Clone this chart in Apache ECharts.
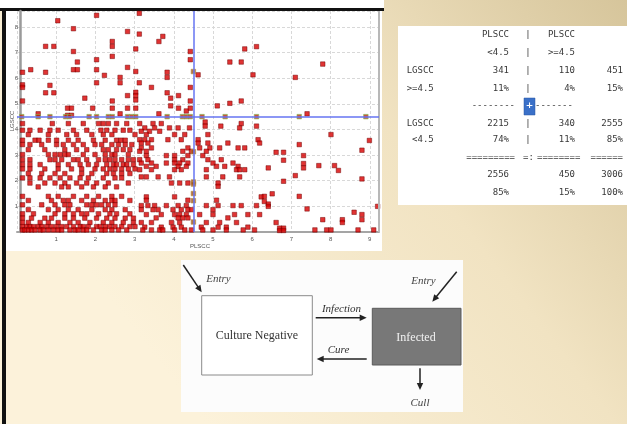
<!DOCTYPE html>
<html><head><meta charset="utf-8">
<script src="https://cdn.jsdelivr.net/npm/echarts@6/dist/echarts.min.js"></script>
<style>html,body{margin:0;padding:0;background:#fff}#c{width:627px;height:424px}</style>
</head><body><div id="c"></div>
<script>
// ---------- scatter data ----------
const xTickLabels = ['1','2','3','4','5','6','7','8','9'];
const yTickLabels = ['1','2','3','4','5','6','7','8'];
const xAxisName = 'PLSCC';
const yAxisName = 'LGSCC';
const cutoff = 4.5;

const pointsUpper = [
[2.03,8.45],[1.04,8.24],[1.44,7.93],[3.12,8.53],[2.82,7.82],[2.43,7.43],[2.43,7.24],[0.73,7.24],[0.94,7.24],[1.44,7.04],[3.03,7.14],[2.43,6.85],[2.03,6.72],[1.54,6.63],[2.82,6.42],[3.03,6.26],[0.14,6.23],[0.35,6.33],[0.73,6.23],[1.44,6.33],[1.54,6.33],[2.03,6.33],[2.23,6.11],[2.63,6.03],[2.63,5.82],[0.14,5.74],[0.14,5.64],[0.84,5.72],[2.03,5.82],[0.73,5.43],[0.94,5.43],[3.03,5.45],[3.03,5.32],[3.03,5.15],[2.82,5.32],[1.73,5.22],[2.43,5.11],[0.14,5.11],[2.82,4.83],[3.03,4.83],[2.43,4.83],[1.93,4.83],[1.29,4.83],[1.39,4.83],[0.54,4.61],[2.63,4.61],[1.29,4.55],[1.39,4.55],
[3.72,7.63],[3.62,7.43],[3.12,7.72],[5.81,7.14],[6.11,7.23],[4.42,7.04],[4.42,6.72],[5.43,6.63],[5.72,6.63],[3.83,6.23],[3.83,6.03],[4.62,6.13],[6.02,6.13],[3.12,5.82],[3.43,5.64],[4.42,5.64],[3.83,5.43],[3.92,5.22],[4.12,5.32],[4.42,5.11],[3.92,4.92],[4.12,4.83],[4.32,4.72],[4.42,4.83],[5.11,4.92],[5.43,5.02],[5.72,5.11],[3.62,4.61],
[7.80,6.55],[7.10,6.03],[7.40,4.61]
];

const pointsLowerLeft = [
[0.14,4.23],[0.90,4.23],[1.31,4.23],[1.69,4.23],[2.08,4.23],[2.20,4.23],[2.33,4.23],[2.54,4.23],[2.80,4.23],
[0.14,3.97],[0.33,3.97],[0.59,3.97],[0.84,3.97],[1.05,3.97],[1.44,3.97],[1.78,3.97],[2.14,3.97],[2.29,3.97],[2.50,3.97],[2.71,3.97],[2.88,3.97],
[0.29,3.80],[0.80,3.80],[1.27,3.80],[1.52,3.80],[1.91,3.80],[2.20,3.80],[2.42,3.80],[3.01,3.80],
[0.14,3.58],[0.46,3.58],[0.56,3.58],[0.80,3.58],[1.01,3.58],[1.31,3.58],[1.56,3.58],[1.95,3.58],[2.25,3.58],[2.54,3.58],[2.65,3.58],[2.76,3.58],
[0.14,3.41],[0.33,3.41],[0.63,3.41],[1.01,3.41],[1.18,3.41],[1.44,3.41],[1.69,3.41],[1.99,3.41],[2.16,3.41],[2.42,3.41],[2.59,3.41],[2.76,3.41],[2.93,3.41],
[0.29,3.21],[0.71,3.21],[1.22,3.21],[1.52,3.21],[1.78,3.21],[2.20,3.21],[2.33,3.21],[2.54,3.21],[2.71,3.21],[2.88,3.21],
[0.14,3.02],[0.80,3.02],[0.97,3.02],[1.10,3.02],[1.22,3.02],[1.31,3.02],[1.69,3.02],[1.99,3.02],[2.25,3.02],[2.42,3.02],[2.50,3.02],[2.84,3.02],
[0.14,2.82],[0.33,2.82],[0.84,2.82],[0.97,2.82],[1.14,2.82],[1.44,2.82],[1.56,2.82],[1.78,2.82],[2.08,2.82],[2.25,2.82],[2.37,2.82],[2.50,2.82],[2.67,2.82],[2.84,2.82],[2.97,2.82],
[0.14,2.63],[0.33,2.63],[0.59,2.63],[1.05,2.63],[1.31,2.63],[1.61,2.63],[1.82,2.63],[2.03,2.63],[2.29,2.63],[2.46,2.63],[2.54,2.63],[2.71,2.63],[2.80,2.63],[2.97,2.63],
[0.14,2.46],[0.33,2.46],[0.71,2.46],[1.05,2.46],[1.39,2.46],[1.65,2.46],[1.99,2.46],[2.20,2.46],[2.37,2.46],[2.50,2.46],[2.67,2.46],[2.84,2.46],[3.01,2.46],
[0.29,2.28],[0.63,2.28],[0.97,2.28],[1.22,2.28],[1.65,2.28],[1.91,2.28],[2.29,2.28],[2.46,2.28],[2.67,2.28],[2.88,2.28],
[0.14,2.11],[0.33,2.11],[0.59,2.11],[0.84,2.11],[1.10,2.11],[1.35,2.11],[1.61,2.11],[1.82,2.11],[2.20,2.11],[2.50,2.11],[2.67,2.11],
[0.33,1.91],[0.71,1.91],[0.97,1.91],[1.22,1.91],[1.52,1.91],[1.78,1.91],[2.03,1.91],[2.33,1.91],[2.84,1.91],
[0.54,1.76],[1.14,1.76],[1.31,1.76],[1.65,1.76],[1.95,1.76],[2.25,1.76],[2.54,1.76],
[0.14,1.39],[0.80,1.39],[1.05,1.39],[1.44,1.39],[1.78,1.39],[2.08,1.39],[2.42,1.39],[2.67,1.39],
[0.29,1.23],[0.88,1.23],[1.18,1.23],[1.31,1.23],[1.65,1.23],[1.95,1.23],[2.25,1.23],[2.42,1.23],[2.50,1.23],[2.88,1.23],
[0.14,1.06],[0.63,1.06],[0.97,1.06],[1.22,1.06],[1.35,1.06],[1.78,1.06],[1.91,1.06],[2.03,1.06],[2.16,1.06],[2.33,1.06],[2.50,1.06],
[0.29,0.87],[0.80,0.87],[1.05,0.87],[1.31,0.87],[1.56,0.87],[1.91,0.87],[2.25,0.87],[2.42,0.87],[2.76,0.87],
[0.14,0.71],[0.42,0.71],[0.97,0.71],[1.22,0.71],[1.44,0.71],[1.65,0.71],[1.78,0.71],[2.08,0.71],[2.37,0.71],[2.54,0.71],[2.88,0.71],
[0.14,0.54],[0.37,0.54],[0.71,0.54],[0.88,0.54],[1.22,0.54],[1.44,0.54],[1.73,0.54],[2.03,0.54],[2.29,0.54],[2.50,0.54],[2.76,0.54],[2.97,0.54],
[0.14,0.37],[0.29,0.37],[0.59,0.37],[0.80,0.37],[1.05,0.37],[1.35,0.37],[1.56,0.37],[1.86,0.37],[2.20,0.37],[2.42,0.37],[2.71,0.37],[2.97,0.37],
[0.14,0.21],[0.25,0.21],[0.33,0.21],[0.42,0.21],[0.54,0.21],[0.63,0.21],[0.76,0.21],[0.88,0.21],[1.01,0.21],[1.14,0.21],[1.27,0.21],[1.44,0.21],[1.61,0.21],[1.69,0.21],[1.82,0.21],[2.03,0.21],[2.12,0.21],[2.25,0.21],[2.37,0.21],[2.50,0.21],[2.67,0.21],[2.88,0.21],[3.01,0.21],
[0.14,0.08],[0.20,0.08],[0.29,0.08],[0.37,0.08],[0.46,0.08],[0.59,0.08],[0.67,0.08],[0.80,0.08],[0.93,0.08],[1.05,0.08],[1.14,0.08],[1.35,0.08],[1.48,0.08],[1.56,0.08],[1.69,0.08],[1.78,0.08],[1.95,0.08],[2.16,0.08],[2.25,0.08],[2.42,0.08],[2.59,0.08],[2.80,0.08]
];

const pointsLowerMid = [
[3.13,4.23],[3.47,4.23],[3.68,4.23],[4.80,4.29],[4.80,4.13],[5.20,4.13],[5.72,4.23],[6.11,4.13],
[3.26,4.06],[3.51,4.06],[3.89,4.06],[4.11,4.06],[4.40,4.06],[5.68,4.06],
[3.17,3.93],[3.38,3.93],[3.64,3.93],
[3.30,3.80],[4.02,3.80],[4.28,3.80],[4.87,3.80],
[3.13,3.60],[3.26,3.60],[3.43,3.60],[3.85,3.60],[4.19,3.60],[4.62,3.60],[6.15,3.60],
[3.17,3.47],[3.34,3.47],[4.62,3.47],[4.87,3.47],[5.38,3.47],[6.19,3.47],
[3.17,3.28],[3.43,3.28],[4.36,3.28],[4.66,3.28],[4.92,3.28],[5.17,3.28],[5.64,3.28],[5.81,3.28],
[3.13,3.15],[3.30,3.15],[4.23,3.15],[4.45,3.15],[4.83,3.15],
[3.30,2.98],[3.81,2.98],[4.02,2.98],[4.36,2.98],[4.74,2.98],
[3.13,2.82],[3.34,2.82],[4.02,2.82],[4.23,2.82],[4.87,2.82],[5.21,2.82],
[3.17,2.69],[3.43,2.69],[3.81,2.69],[4.02,2.69],[4.15,2.69],[4.36,2.69],[5.00,2.69],[5.51,2.69],
[3.30,2.56],[3.55,2.56],[4.11,2.56],[4.32,2.56],[5.09,2.56],[5.30,2.56],[5.64,2.56],
[3.13,2.43],[3.43,2.43],[4.02,2.43],[4.19,2.43],[4.83,2.43],[5.60,2.43],[5.68,2.43],[5.81,2.43],
[3.17,2.15],[3.30,2.15],[3.60,2.15],[3.89,2.15],[4.83,2.15],[5.25,2.15],[5.68,2.15],
[3.94,1.91],[4.15,1.91],[4.36,1.91],[5.13,1.91],
[5.13,1.78],
[3.30,1.37],[4.02,1.37],[6.23,1.37],
[3.30,1.24],[4.36,1.24],[5.09,1.24],
[3.17,1.03],[3.34,1.03],[3.51,1.03],[3.81,1.03],[4.11,1.03],[4.32,1.03],[4.83,1.03],[5.13,1.03],[5.51,1.03],[5.72,1.03],[6.11,1.03],
[3.17,0.87],[3.47,0.87],[3.60,0.87],[3.98,0.87],[4.19,0.87],[4.36,0.87],[4.45,0.87],[5.00,0.87],
[3.30,0.68],[3.68,0.68],[4.02,0.68],[4.15,0.68],[4.32,0.68],[4.66,0.68],[5.00,0.68],[5.55,0.68],[5.89,0.68],[6.19,0.68],
[3.55,0.55],[4.11,0.55],[4.23,0.55],[4.36,0.55],[5.38,0.55],
[3.17,0.37],[3.43,0.37],[3.94,0.37],[4.15,0.37],[4.83,0.37],[5.17,0.37],[5.60,0.37],
[3.26,0.19],[3.68,0.19],[3.98,0.19],[4.19,0.19],[4.70,0.19],[5.13,0.19],[5.34,0.19],[5.89,0.19],
[3.21,0.08],[3.43,0.08],[3.64,0.08],[3.72,0.08],[4.02,0.08],[4.28,0.08],[4.45,0.08],[4.74,0.08],[5.00,0.08],[5.34,0.08],[5.77,0.08],[6.06,0.08]
];

const pointsLowerRight = [
[8.01,3.80],[8.99,3.57],[7.20,3.41],[6.61,3.11],[6.80,3.11],[8.80,3.19],[6.80,2.80],[7.31,2.98],[7.31,2.67],[7.31,2.50],[6.41,2.50],[7.70,2.59],[8.10,2.59],[8.20,2.40],[7.10,2.20],[6.80,1.98],[8.80,2.07],[6.51,1.49],[6.31,1.39],[6.31,1.19],[6.41,1.09],[6.41,1.00],[7.20,1.39],[7.40,0.90],[9.20,1.00],[8.60,0.77],[8.80,0.68],[8.80,0.48],[7.80,0.48],[8.30,0.48],[8.30,0.37],[6.61,0.37],[6.70,0.15],[6.80,0.15],[6.70,0.06],[6.80,0.06],[7.60,0.08],[7.90,0.08],[8.01,0.08],[8.70,0.08],[9.10,0.08]
];

// points lying on the cut-off lines
const onCutY_x = [0.12,0.54,0.84,1.24,1.34,1.84,2.03,2.33,2.43,2.82,2.93,3.03,3.83,4.22,4.32,4.42,4.72,5.31,6.11,7.20,8.90];
const onCutX_y = [6.26,3.13,1.95,1.87,1.50,1.22,0.39];

// ---------- table data ----------
const colHeads = [['PLSCC','<4.5'],['PLSCC','>=4.5']];
const rowHeads = [['LGSCC','>=4.5'],['LGSCC',' <4.5']];
const cellCounts = [[341,110,451],[2215,340,2555]];
const cellPcts = [['11%','4%','15%'],['74%','11%','85%']];
const colTotals = [2556,450,3006];
const colTotalPcts = ['85%','15%','100%'];
const dashRow = ['--------','-------'];
const eqRow = ['=========','=:','========','======'];

// ---------- diagram text ----------
const boxLabels = ['Culture Negative','Infected'];
const flowLabels = ['Entry','Entry','Infection','Cure','Cull'];

// ---------- build ----------
const chart = echarts.init(document.getElementById('c'), null, {renderer:'canvas'});
const mono = '9px "DejaVu Sans Mono", monospace';
const serif = '"Liberation Serif", "DejaVu Serif", serif';
const els = [];
function rect(x,y,w,h,style,z){els.push({type:'rect',shape:{x,y,width:w,height:h},style,z:z===undefined?-10:z,silent:true});}
function txt(t,x,y,align,font,fill,z,extra){els.push(Object.assign({type:'text',x,y,z:z||20,silent:true,style:{text:t,textAlign:align,align:align,textVerticalAlign:'middle',verticalAlign:'middle',font:font,fill:fill}},extra||{}));}
function arrow(x1,y1,x2,y2){
  const dx=x2-x1,dy=y2-y1,L=Math.hypot(dx,dy),ux=dx/L,uy=dy/L,hl=7,hw=3.2;
  const bx=x2-ux*hl,by=y2-uy*hl;
  els.push({type:'line',shape:{x1,y1,x2:bx+ux*1,y2:by+uy*1},style:{stroke:'#222',lineWidth:1.5},z:20,silent:true});
  els.push({type:'polygon',shape:{points:[[x2,y2],[bx-uy*hw,by+ux*hw],[bx+uy*hw,by-ux*hw]]},style:{fill:'#222'},z:20,silent:true});
}

// backgrounds
rect(0,0,627,424,{fill:new echarts.graphic.LinearGradient(1,0,0.25,0.85,[{offset:0,color:'#d6c59b'},{offset:0.45,color:'#f1e3c2'},{offset:1,color:'#fcf2da'}])},-100);
rect(0,0,384,8,{fill:'#ffffff'},-99);
rect(0,8,384,3,{fill:'#111111'},-98);
rect(2,8,4,416,{fill:'#111111'},-98);
rect(6,11,376,240,{fill:'#ffffff'},-97);
rect(378,11,2,221,{fill:'#b8b8b8'},5);
rect(398,26,229,179,{fill:'#ffffff'},-97);
rect(181,260,282,152,{fill:'#fcfcfc'},-97);

// axis names
txt(xAxisName,200,246,'center','6px "Liberation Sans", Arial, sans-serif','#555',5);
txt(yAxisName,12,121,'center','6px "Liberation Sans", Arial, sans-serif','#555',5,{rotation:Math.PI/2});

// table
const colR = [509,575,623], pipeX = 528, rowHeadX = 406.7;
const rowY = [35,52.7,70.7,88.3,106,123.3,140,157.3,175,192.7];
const tc = '#383838';
txt(colHeads[0][0],colR[0],rowY[0],'right',mono,tc); txt(colHeads[1][0],colR[1],rowY[0],'right',mono,tc);
txt(colHeads[0][1],colR[0],rowY[1],'right',mono,tc); txt(colHeads[1][1],colR[1],rowY[1],'right',mono,tc);
[0,1,2,3,5,6].forEach(i=>txt('|',pipeX,rowY[i],'center',mono,tc));
[0,1].forEach(r=>{
  const y0 = r===0?rowY[2]:rowY[5], y1 = r===0?rowY[3]:rowY[6];
  txt(rowHeads[r][0],rowHeadX,y0,'left',mono,tc);
  txt(rowHeads[r][1],rowHeadX,y1,'left',mono,tc);
  cellCounts[r].forEach((v,c)=>txt(String(v),colR[c],y0,'right',mono,tc));
  cellPcts[r].forEach((v,c)=>txt(v,colR[c],y1,'right',mono,tc));
});
txt(dashRow[0],515,rowY[4],'right',mono,tc);
txt(dashRow[1],535,rowY[4],'left',mono,tc);
rect(524,98,11,17,{fill:'#3a70c8',stroke:'#2a56a0',lineWidth:0.5},15);
txt('+',529.5,106,'center','bold 9px "DejaVu Sans", sans-serif','#ffffff',21);
txt(eqRow[0],515,rowY[7],'right',mono,tc);
txt(eqRow[1],523,rowY[7],'left',mono,tc);
txt(eqRow[2],537,rowY[7],'left',mono,tc);
txt(eqRow[3],623,rowY[7],'right',mono,tc);
colTotals.forEach((v,c)=>txt(String(v),colR[c],rowY[8],'right',mono,tc));
colTotalPcts.forEach((v,c)=>txt(v,colR[c],rowY[9],'right',mono,tc));

// diagram
rect(201.7,295.7,110.6,79.3,{fill:'#ffffff',stroke:'#8a8a8a',lineWidth:1},15);
rect(372.3,308.3,88.7,56.7,{fill:'#787878',stroke:'#5a5a5a',lineWidth:1},15);
txt(boxLabels[0],257,336,'center','12px '+serif,'#333333');
txt(boxLabels[1],416,337.5,'center','12px '+serif,'#f2f2f2');
arrow(183.3,265,201.7,292.3);
arrow(456.7,271.7,432.3,301.7);
arrow(315.7,317.7,366.7,317.7);
arrow(366.7,359,316.7,359);
arrow(420,368.3,420,390);
const it = 'italic 11px '+serif;
txt(flowLabels[0],218.5,279,'center',it,'#444');
txt(flowLabels[1],423.5,281.5,'center',it,'#444');
txt(flowLabels[2],341.5,309,'center',it,'#333');
txt(flowLabels[3],338.5,350.5,'center',it,'#333');
txt(flowLabels[4],420,403,'center',it,'#444');

const tickFont = {fontSize:6,color:'#555',fontFamily:'"Liberation Sans", Arial, sans-serif'};
const split = {show:true,lineStyle:{color:'#d8d8d8',type:[3,2],width:1}};

chart.setOption({
  animation:false,
  backgroundColor:'transparent',
  grid:{left:17,right:248,top:11,bottom:192,containLabel:false},
  xAxis:{type:'value',min:0,max:9.235,interval:1,
    axisLine:{show:true,onZero:false,lineStyle:{color:'#a5a5a5',width:2}},
    axisTick:{show:false},splitLine:split,
    axisLabel:Object.assign({margin:4,showMinLabel:false,showMaxLabel:false,
      formatter:v=>(Number.isInteger(v)&&v>=1&&v<=9)?xTickLabels[v-1]:''},tickFont)},
  yAxis:{type:'value',min:0,max:8.62,interval:1,offset:-3,
    axisLine:{show:true,onZero:false,lineStyle:{color:'#9a9a9a',width:2.5}},
    axisTick:{show:false},splitLine:split,
    axisLabel:Object.assign({margin:2,showMinLabel:false,showMaxLabel:false,
      formatter:v=>(Number.isInteger(v)&&v>=1&&v<=8)?yTickLabels[v-1]:''},tickFont)},
  graphic:{elements:els},
  series:[
    {type:'scatter',name:'main',symbol:'rect',symbolSize:4.5,z:3,
      data:pointsUpper.concat(pointsLowerLeft,pointsLowerMid,pointsLowerRight),
      itemStyle:{color:'#d80000',borderColor:'#700000',borderWidth:0.6},
      markLine:{silent:true,symbol:'none',animation:false,label:{show:false},
        lineStyle:{color:'#6674f2',width:1.5,type:'solid'},
        data:[{xAxis:cutoff},{yAxis:cutoff}]}},
    {type:'scatter',name:'onY',symbol:'rect',symbolSize:4.5,z:4,
      data:onCutY_x.map(x=>[x,cutoff]),
      itemStyle:{color:'#c0280c',borderColor:'#7fbf5c',borderWidth:0.8}},
    {type:'scatter',name:'onX',symbol:'rect',symbolSize:4.5,z:4,
      data:onCutX_y.map(y=>[cutoff,y]),
      itemStyle:{color:'#a0501a',borderColor:'#b89040',borderWidth:0.8}}
  ]
});
</script></body></html>
